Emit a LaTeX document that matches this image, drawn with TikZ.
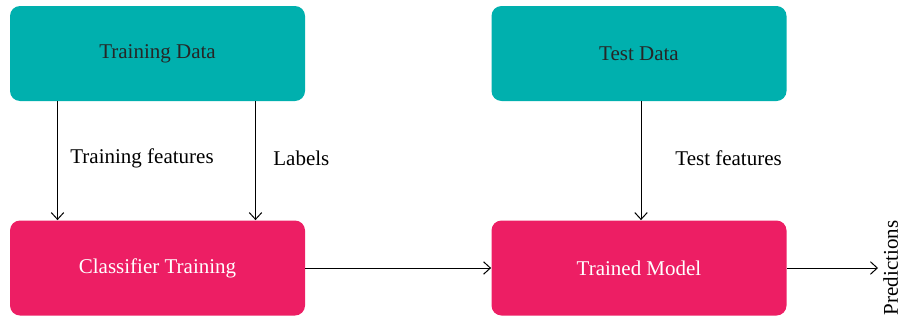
\documentclass[tikz,border=0pt]{standalone}
\usepackage{fontspec}
\setmainfont{Liberation Serif}
\usetikzlibrary{positioning}
\usetikzlibrary{arrows.meta}
\tikzset{>={Straight Barb[length=1.2mm,width=2.2mm]}}
\definecolor{datateal}{RGB}{0,176,174}
\definecolor{modelpink}{RGB}{237,30,100}

\begin{document}
\begin{tikzpicture}[
    x=0.5pt, y=-0.5pt,
    font=\fontsize{10.5}{12}\selectfont,
    databox/.style={
        rectangle,
        rounded corners=5pt,
        fill=datateal,
        text=black!85,
        minimum width=147.5pt,
        minimum height=47.5pt
    },
    modelbox/.style={
        databox,
        fill=modelpink,
        text=white
    },
    flow/.style={->, line width=0.5pt}
]
\useasboundingbox (0,0) rectangle (903,321);

\node[databox] (tdata) at (157.5,53.5) {Training Data};
\node[databox] (testdata) at (639,53.5) {Test Data};

\node[modelbox] (ctrain) at (157.5,268) {Classifier Training};
\node[modelbox] (tmodel) at (639,268) {Trained Model};

\draw[flow] ([xshift=-50pt]tdata.south) -- ([xshift=-50pt]ctrain.north);
\draw[flow] ([xshift=49pt]tdata.south) -- ([xshift=49pt]ctrain.north);
\draw[flow] ([xshift=1pt]testdata.south) -- ([xshift=1pt]tmodel.north);

\node[anchor=west, inner sep=0pt] (tfeat) at (70,158) {Training features};
\node[anchor=west, inner sep=0pt] (labels) at (273,158) {Labels};
\node[anchor=west, inner sep=0pt] (testfeat) at (675,158) {Test features};

\draw[flow] (ctrain) -- (tmodel);

\coordinate (predend) at (878,268);
\draw[flow] (tmodel) -- (predend);
\node[rotate=90, anchor=north, inner sep=0pt] (pred) at (883,268) {Predictions};

\end{tikzpicture}
\end{document}
